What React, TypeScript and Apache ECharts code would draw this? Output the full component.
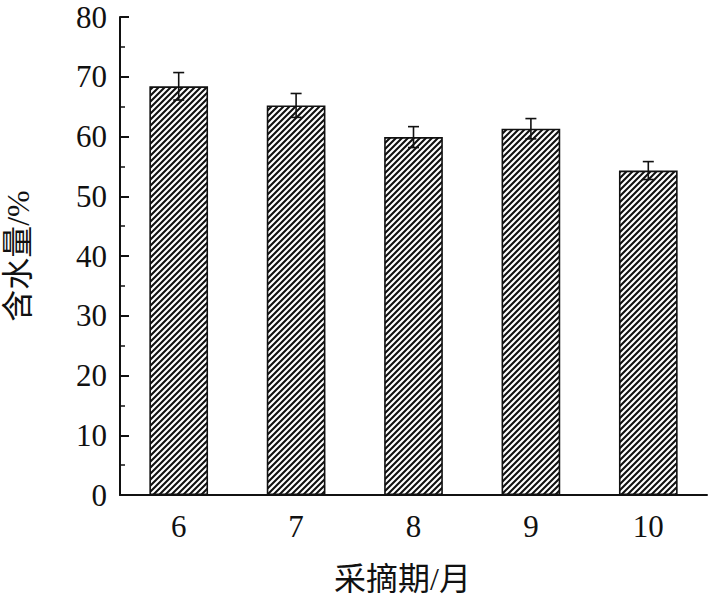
import React, { useEffect, useRef } from "react";
import * as echarts from "echarts";

const months = ["6", "7", "8", "9", "10"];
const waterContent = [68.4, 65.2, 59.9, 61.3, 54.3];
const errorSize = [2.3, 2.0, 1.75, 1.7, 1.5];
const yMin = 0;
const yMax = 80;
const yInterval = 10;
const xName = "采摘期/月";
const yName = "含水量/%";

function makeHatch(): HTMLCanvasElement {
  const s = 6;
  const c = document.createElement("canvas");
  c.width = s;
  c.height = s;
  const ctx = c.getContext("2d")!;
  ctx.fillStyle = "#ffffff";
  ctx.fillRect(0, 0, s, s);
  ctx.strokeStyle = "#111111";
  ctx.lineWidth = 2.1;
  ctx.beginPath();
  ctx.moveTo(-1, s + 1);
  ctx.lineTo(s + 1, -1);
  ctx.moveTo(-1, 1);
  ctx.lineTo(1, -1);
  ctx.moveTo(s - 1, s + 1);
  ctx.lineTo(s + 1, s - 1);
  ctx.stroke();
  return c;
}

export default function App() {
  const ref = useRef<HTMLDivElement>(null);
  useEffect(() => {
    if (!ref.current) return;
    const chart = echarts.init(ref.current, null, { renderer: "svg" });
    const hatch = makeHatch();
    const font = "'Liberation Serif', 'Times New Roman', 'Noto Sans CJK SC', serif";
    const errData = months.map((_, i) => [
      i,
      waterContent[i] - errorSize[i],
      waterContent[i] + errorSize[i],
    ]);
    chart.setOption({
      animation: false,
      backgroundColor: "#ffffff",
      grid: {
        left: 120,
        right: 1,
        top: 17,
        bottom: 107,
        containLabel: false,
        outerBoundsMode: "none",
      },
      xAxis: {
        type: "category",
        data: months,
        name: xName,
        nameLocation: "middle",
        nameGap: 68,
        nameTextStyle: { color: "#111", fontSize: 32, fontFamily: font, padding: [0, 22, 0, 0] },
        axisLine: { lineStyle: { color: "#111", width: 2 } },
        axisTick: { show: false },
        axisLabel: { color: "#111", fontSize: 31, fontFamily: font, margin: 16 },
      },
      yAxis: {
        type: "value",
        min: yMin,
        max: yMax,
        interval: yInterval,
        name: yName,
        nameLocation: "middle",
        nameGap: 86,
        nameTextStyle: { color: "#111", fontSize: 32, fontFamily: font },
        axisLine: { show: true, lineStyle: { color: "#111", width: 2 } },
        axisTick: { show: true, inside: true, length: 9, lineStyle: { color: "#111", width: 2 } },
        minorTick: { show: true, splitNumber: 2, length: 5, lineStyle: { color: "#111", width: 1.5 } },
        splitLine: { show: false },
        axisLabel: { color: "#111", fontSize: 31, fontFamily: font, margin: 13 },
      },
      series: [
        {
          type: "bar",
          data: waterContent,
          barWidth: "50%",
          itemStyle: {
            color: {
              image: hatch,
              repeat: "repeat",
              imageWidth: 6,
              imageHeight: 6,
            } as any,
            borderColor: "#111",
            borderWidth: 1.6,
          },
        },
        {
          type: "custom",
          data: errData,
          z: 10,
          renderItem: (params: any, api: any) => {
            const idx = api.value(0);
            const lo = api.coord([idx, api.value(1)]);
            const hi = api.coord([idx, api.value(2)]);
            const half = 5.5;
            const style = { stroke: "#111", lineWidth: 1.6 };
            return {
              type: "group",
              children: [
                { type: "line", shape: { x1: hi[0], y1: hi[1], x2: lo[0], y2: lo[1] }, style },
                { type: "line", shape: { x1: hi[0] - half, y1: hi[1], x2: hi[0] + half, y2: hi[1] }, style },
                { type: "line", shape: { x1: lo[0] - half, y1: lo[1], x2: lo[0] + half, y2: lo[1] }, style },
              ],
            };
          },
        },
      ],
    });
    return () => chart.dispose();
  }, []);
  return (
    <div
      ref={ref}
      style={{ position: "fixed", left: 0, top: 0, width: 708, height: 602 }}
    />
  );
}
